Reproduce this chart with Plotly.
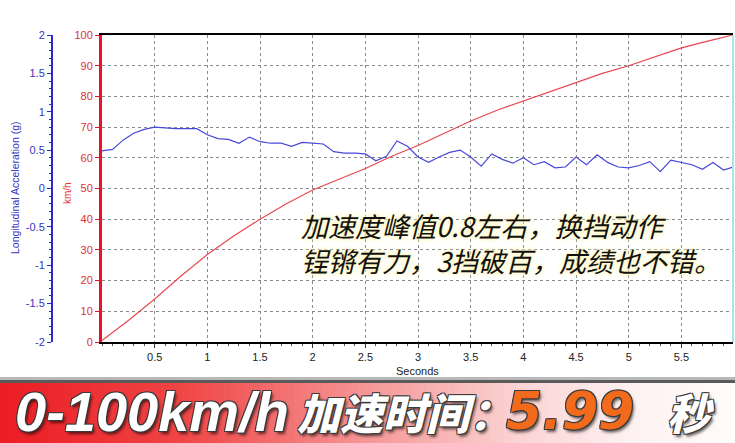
import plotly.graph_objects as go

# ---------------- data ----------------
t_speed = [0.0, 0.25, 0.5, 0.75, 1.0, 1.25, 1.5, 1.75, 2.0, 2.25, 2.5, 2.75, 3.0,
           3.25, 3.5, 3.75, 4.0, 4.25, 4.5, 4.75, 5.0, 5.25, 5.5, 5.75, 5.99]
speed_kmh = [0.5, 7.0, 14.0, 21.5, 28.5, 34.5, 40.0, 45.0, 49.5, 53.0, 56.5, 60.5, 64.0,
             68.0, 72.0, 75.5, 78.5, 81.5, 84.5, 87.5, 90.0, 93.0, 95.8, 98.0, 100.0]

t_acc = [0.0, 0.1, 0.2, 0.3, 0.4, 0.5, 0.6, 0.7, 0.8, 0.9, 1.0, 1.1, 1.2, 1.3, 1.4,
         1.5, 1.6, 1.7, 1.8, 1.9, 2.0, 2.1, 2.2, 2.3, 2.4, 2.5, 2.6, 2.7, 2.8, 2.9,
         3.0, 3.1, 3.2, 3.3, 3.4, 3.5, 3.6, 3.7, 3.8, 3.9, 4.0, 4.1, 4.2, 4.3, 4.4,
         4.5, 4.6, 4.7, 4.8, 4.9, 5.0, 5.1, 5.2, 5.3, 5.4, 5.5, 5.6, 5.7, 5.8, 5.9, 5.99]
acc_g = [0.49, 0.51, 0.63, 0.72, 0.77, 0.80, 0.79, 0.78, 0.78, 0.78, 0.70, 0.65, 0.64, 0.59, 0.67,
         0.61, 0.59, 0.59, 0.55, 0.60, 0.59, 0.58, 0.48, 0.46, 0.46, 0.45, 0.36, 0.42, 0.62, 0.55,
         0.41, 0.34, 0.41, 0.47, 0.50, 0.41, 0.29, 0.45, 0.38, 0.33, 0.40, 0.31, 0.35, 0.27, 0.28,
         0.41, 0.31, 0.44, 0.34, 0.28, 0.27, 0.30, 0.35, 0.22, 0.37, 0.34, 0.31, 0.25, 0.34, 0.24, 0.28]

x_tick_vals = [0.5, 1, 1.5, 2, 2.5, 3, 3.5, 4, 4.5, 5, 5.5]
x_tick_text = ["0.5", "1", "1.5", "2", "2.5", "3", "3.5", "4", "4.5", "5", "5.5"]
speed_ticks = [0, 10, 20, 30, 40, 50, 60, 70, 80, 90, 100]
acc_ticks = [-2, -1.5, -1, -0.5, 0, 0.5, 1, 1.5, 2]
acc_tick_text = ["-2", "-1.5", "-1", "-0.5", "0", "0.5", "1", "1.5", "2"]

x_title = "Seconds"
speed_title = "km/h"
acc_title = "Longitudinal Acceleration (g)"
note_lines = ["加速度峰值0.8左右，换挡动作", "锃锵有力，3挡破百，成绩也不错。"]
banner_parts = ["0-100km/h", "加速时间：", "5.99", "秒"]

# ---------------- layout geometry (pixels) ----------------
W, H = 735, 443
PL, PR, PT, PB = 102, 733, 35, 342


def px(x):
    return x / W


def py(y):
    return 1 - y / H


RED = "#e8102a"
BLUE = "#2a2ac8"
GRID = "#8a8a8a"

fig = go.Figure()

fig.add_trace(go.Scatter(x=t_speed, y=speed_kmh, mode="lines",
                         line=dict(color="#e8454f", width=1.1),
                         yaxis="y", showlegend=False, hoverinfo="skip"))
fig.add_trace(go.Scatter(x=t_acc, y=acc_g, mode="lines",
                         line=dict(color="#4848d8", width=1.2),
                         yaxis="y2", showlegend=False, hoverinfo="skip"))

tickfont = dict(family="Liberation Sans, Arial, sans-serif", size=11)

fig.update_layout(
    template="none",
    width=W, height=H,
    margin=dict(l=0, r=0, t=0, b=0, pad=0, autoexpand=False),
    paper_bgcolor="white", plot_bgcolor="white",
    xaxis=dict(domain=[px(PL), px(PR)], range=[0, 5.99], automargin=False,
               tickvals=x_tick_vals, ticktext=x_tick_text,
               showgrid=True, gridcolor=GRID, griddash="3px,3px", gridwidth=1,
               showline=True, linecolor="black", linewidth=2, mirror=True,
               ticks="outside", ticklen=4, tickcolor="#333",
               minor=dict(dtick=0.1, ticks="outside", ticklen=2, tickcolor="#555", showgrid=False),
               tickfont=dict(tickfont, color="#222"), zeroline=False,
               anchor="y"),
    yaxis=dict(domain=[py(PB), py(PT)], range=[0, 100], automargin=False,
               tickvals=speed_ticks,
               showgrid=True, gridcolor=GRID, griddash="3px,3px", gridwidth=1,
               showline=True, linecolor=RED, linewidth=3,
               ticks="outside", ticklen=4, tickcolor=RED,
               tickfont=dict(tickfont, color="#e03030"), zeroline=False,
               anchor="x"),
    yaxis2=dict(overlaying="y", anchor="free", position=px(52), side="left",
                range=[-2, 2], tickvals=acc_ticks, ticktext=acc_tick_text,
                automargin=False,
                showgrid=False, zeroline=False,
                showline=True, linecolor=BLUE, linewidth=2,
                ticks="outside", ticklen=4, tickcolor=BLUE,
                minor=dict(dtick=0.1, ticks="outside", ticklen=2, tickcolor=BLUE),
                tickfont=dict(tickfont, color="#3434c4")),
)

shapes = []
# right plot border
shapes.append(dict(type="line", xref="paper", yref="paper",
                   x0=px(PR), x1=px(PR), y0=py(PB), y1=py(PT),
                   line=dict(color="#a8e4f2", width=2)))

# banner gradient
stops = [(0.0, (236, 28, 36)), (0.25, (240, 70, 70)), (0.5, (246, 150, 150)),
         (0.7, (251, 210, 210)), (0.85, (254, 240, 240)), (1.0, (255, 252, 252))]


def grad(f):
    for (a, ca), (b, cb) in zip(stops[:-1], stops[1:]):
        if a <= f <= b:
            u = (f - a) / (b - a)
            return "rgb(%d,%d,%d)" % tuple(round(ca[i] + (cb[i] - ca[i]) * u) for i in range(3))
    return "rgb(255,252,252)"


BT = 383
n = 105
sw = W / n
for i in range(n):
    x0 = i * sw
    shapes.append(dict(type="rect", xref="paper", yref="paper", layer="below",
                       x0=px(x0), x1=px(min(W, x0 + sw + 1)), y0=0, y1=py(BT),
                       line=dict(width=0), fillcolor=grad((i + 0.5) / n)))
shapes.append(dict(type="rect", xref="paper", yref="paper", layer="below",
                   x0=0, x1=1, y0=py(BT), y1=py(380),
                   line=dict(width=0), fillcolor="#5a5a5a"))
shapes.append(dict(type="rect", xref="paper", yref="paper", layer="below",
                   x0=0, x1=1, y0=py(380), y1=py(377),
                   line=dict(width=0), fillcolor="#b8b8b8"))
fig.update_layout(shapes=shapes)

ann = []
# axis titles
ann.append(dict(text=x_title, xref="paper", yref="paper", x=px((PL + PR) / 2), y=py(371),
                showarrow=False, font=dict(tickfont, color="#222", size=11),
                xanchor="center", yanchor="middle"))
ann.append(dict(text=speed_title, xref="paper", yref="paper", x=px(68), y=py(193),
                showarrow=False, textangle=-90, font=dict(tickfont, color="#e03030", size=10),
                xanchor="center", yanchor="middle"))
ann.append(dict(text=acc_title, xref="paper", yref="paper", x=px(15), y=py(188),
                showarrow=False, textangle=-90, font=dict(tickfont, color="#3434c4", size=10.5),
                xanchor="center", yanchor="middle"))

# note text
glow = "0 0 3px #fff9c8, 0 0 3px #fff9c8, 0 0 6px #fff3a8"
ann.append(dict(text="<br>".join(note_lines), xref="paper", yref="paper",
                x=px(299), y=py(243), showarrow=False, align="left",
                xanchor="left", yanchor="middle",
                font=dict(family="Noto Sans CJK SC", size=27, color="#111",
                          style="italic", shadow=glow)))

# banner text
outline = ("-1px -1px 0 #3a3a3a, 1px -1px 0 #3a3a3a, -1px 1px 0 #3a3a3a, "
           "1px 1px 0 #3a3a3a, 2px 3px 3px rgba(0,0,0,0.6)")
BY = 411
ann.append(dict(text=banner_parts[0], xref="paper", yref="paper", borderpad=0,
                x=px(14), y=py(BY), showarrow=False, xanchor="left", yanchor="middle",
                font=dict(family="Liberation Sans, Arial", size=56, color="white",
                          style="italic", weight="bold", shadow=outline)))
ann.append(dict(text=banner_parts[1], xref="paper", yref="paper", borderpad=0,
                x=px(296), y=py(BY), showarrow=False, xanchor="left", yanchor="middle",
                font=dict(family="Noto Sans CJK SC", size=43, color="white",
                          style="italic", weight=900, shadow=outline)))
ann.append(dict(text=banner_parts[2], xref="paper", yref="paper", borderpad=0,
                x=px(505), y=py(BY), showarrow=False, xanchor="left", yanchor="middle",
                font=dict(family="DejaVu Sans", size=52, color="#f26a1b",
                          style="italic", weight="bold", shadow=outline)))
ann.append(dict(text=banner_parts[3], xref="paper", yref="paper", borderpad=0,
                x=px(666), y=py(BY), showarrow=False, xanchor="left", yanchor="middle",
                font=dict(family="Noto Sans CJK SC", size=43, color="white",
                          style="italic", weight=900, shadow=outline)))
fig.update_layout(annotations=ann)

fig.write_html("out.html", config={"displayModeBar": False},
               post_script="document.body.style.margin='0';document.body.style.overflow='hidden';")
